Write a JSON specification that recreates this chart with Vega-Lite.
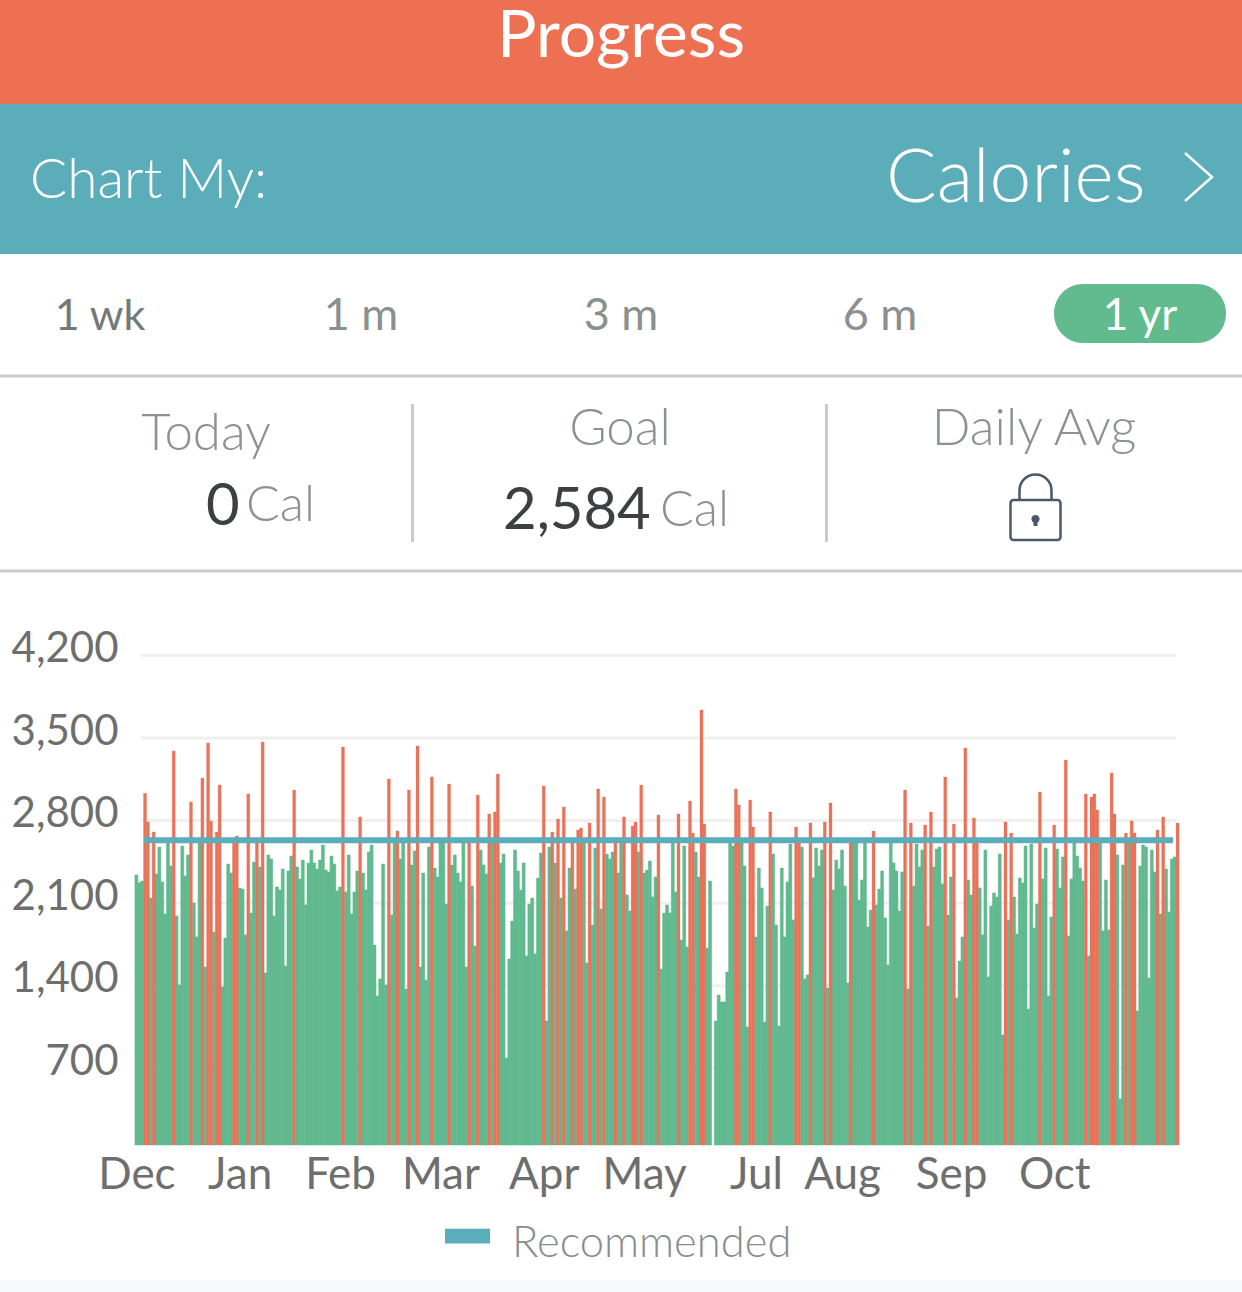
{"$schema":"https://vega.github.io/schema/vega-lite/v6.json","autosize":{"type":"none"},"padding":0,"width":1242,"height":1292,"background":"white","view":{"stroke":null},"config":{"font":"Lato","text":{"font":"Lato","baseline":"alphabetic"}},
"datasets":{
"daily":[{"day":1,"calories":2339},{"day":2,"calories":2274},{"day":3,"calories":2288},{"day":4,"calories":3031},{"day":5,"calories":2788},{"day":6,"calories":2144},{"day":7,"calories":2704},{"day":8,"calories":2348},{"day":9,"calories":2576},{"day":10,"calories":2280},{"day":11,"calories":2009},{"day":12,"calories":2610},{"day":13,"calories":2415},{"day":14,"calories":3390},{"day":15,"calories":1992},{"day":16,"calories":1407},{"day":17,"calories":2585},{"day":18,"calories":2331},{"day":19,"calories":2509},{"day":20,"calories":2958},{"day":21,"calories":2102},{"day":22,"calories":1814},{"day":23,"calories":2610},{"day":24,"calories":3161},{"day":25,"calories":1559},{"day":26,"calories":3458},{"day":27,"calories":2797},{"day":28,"calories":1856},{"day":29,"calories":2704},{"day":30,"calories":3102},{"day":31,"calories":1390},{"day":32,"calories":1805},{"day":33,"calories":2432},{"day":34,"calories":2356},{"day":35,"calories":2650},{"day":36,"calories":2670},{"day":37,"calories":2229},{"day":38,"calories":2220},{"day":39,"calories":1831},{"day":40,"calories":3026},{"day":41,"calories":2017},{"day":42,"calories":2449},{"day":43,"calories":2650},{"day":44,"calories":2407},{"day":45,"calories":3466},{"day":46,"calories":1509},{"day":47,"calories":2509},{"day":48,"calories":2475},{"day":49,"calories":1992},{"day":50,"calories":2237},{"day":51,"calories":2212},{"day":52,"calories":2390},{"day":53,"calories":1568},{"day":54,"calories":2373},{"day":55,"calories":2500},{"day":56,"calories":3059},{"day":57,"calories":2407},{"day":58,"calories":2305},{"day":59,"calories":2466},{"day":60,"calories":2085},{"day":61,"calories":2441},{"day":62,"calories":2551},{"day":63,"calories":2441},{"day":64,"calories":2390},{"day":65,"calories":2466},{"day":66,"calories":2593},{"day":67,"calories":2381},{"day":68,"calories":2365},{"day":69,"calories":2500},{"day":70,"calories":2432},{"day":71,"calories":2204},{"day":72,"calories":2237},{"day":73,"calories":3424},{"day":74,"calories":2195},{"day":75,"calories":2509},{"day":76,"calories":2009},{"day":77,"calories":2195},{"day":78,"calories":2373},{"day":79,"calories":2831},{"day":80,"calories":2356},{"day":81,"calories":2212},{"day":82,"calories":2534},{"day":83,"calories":2593},{"day":84,"calories":1746},{"day":85,"calories":1314},{"day":86,"calories":1458},{"day":87,"calories":2432},{"day":88,"calories":1407},{"day":89,"calories":3153},{"day":90,"calories":2000},{"day":91,"calories":2610},{"day":92,"calories":2712},{"day":93,"calories":2475},{"day":94,"calories":2610},{"day":95,"calories":1373},{"day":96,"calories":3059},{"day":97,"calories":2424},{"day":98,"calories":2543},{"day":99,"calories":3432},{"day":100,"calories":1559},{"day":101,"calories":2356},{"day":102,"calories":1449},{"day":103,"calories":2576},{"day":104,"calories":3170},{"day":105,"calories":2398},{"day":106,"calories":2322},{"day":107,"calories":2610},{"day":108,"calories":2610},{"day":109,"calories":2093},{"day":110,"calories":3110},{"day":111,"calories":2424},{"day":112,"calories":2509},{"day":113,"calories":2356},{"day":114,"calories":2280},{"day":115,"calories":2610},{"day":116,"calories":1559},{"day":117,"calories":2650},{"day":118,"calories":2246},{"day":119,"calories":1737},{"day":120,"calories":3017},{"day":121,"calories":2551},{"day":122,"calories":2424},{"day":123,"calories":2348},{"day":124,"calories":2856},{"day":125,"calories":2610},{"day":126,"calories":2873},{"day":127,"calories":3195},{"day":128,"calories":2441},{"day":129,"calories":2517},{"day":130,"calories":788},{"day":131,"calories":1627},{"day":132,"calories":1949},{"day":133,"calories":2551},{"day":134,"calories":2373},{"day":135,"calories":2212},{"day":136,"calories":2441},{"day":137,"calories":1653},{"day":138,"calories":2093},{"day":139,"calories":2144},{"day":140,"calories":1670},{"day":141,"calories":2314},{"day":142,"calories":2526},{"day":143,"calories":3093},{"day":144,"calories":1102},{"day":145,"calories":2576},{"day":146,"calories":2704},{"day":147,"calories":2441},{"day":148,"calories":2814},{"day":149,"calories":2144},{"day":150,"calories":2915},{"day":151,"calories":1865},{"day":152,"calories":2398},{"day":153,"calories":2650},{"day":154,"calories":2220},{"day":155,"calories":2720},{"day":156,"calories":2737},{"day":157,"calories":2610},{"day":158,"calories":1593},{"day":159,"calories":2780},{"day":160,"calories":1915},{"day":161,"calories":2568},{"day":162,"calories":3068},{"day":163,"calories":2051},{"day":164,"calories":3000},{"day":165,"calories":2517},{"day":166,"calories":2475},{"day":167,"calories":2534},{"day":168,"calories":2650},{"day":169,"calories":2356},{"day":170,"calories":2610},{"day":171,"calories":2831},{"day":172,"calories":2170},{"day":173,"calories":2034},{"day":174,"calories":2754},{"day":175,"calories":2788},{"day":176,"calories":2534},{"day":177,"calories":3102},{"day":178,"calories":2356},{"day":179,"calories":2381},{"day":180,"calories":2458},{"day":181,"calories":2153},{"day":182,"calories":2322},{"day":183,"calories":2848},{"day":184,"calories":1542},{"day":185,"calories":2017},{"day":186,"calories":2085},{"day":187,"calories":2017},{"day":188,"calories":2610},{"day":189,"calories":2195},{"day":190,"calories":2856},{"day":191,"calories":1788},{"day":192,"calories":2585},{"day":193,"calories":1729},{"day":194,"calories":2966},{"day":195,"calories":2695},{"day":196,"calories":2534},{"day":197,"calories":2322},{"day":198,"calories":3737},{"day":199,"calories":2771},{"day":200,"calories":1720},{"day":201,"calories":2288},{"day":203,"calories":1102},{"day":204,"calories":1322},{"day":205,"calories":1263},{"day":206,"calories":1263},{"day":207,"calories":1517},{"day":208,"calories":2610},{"day":209,"calories":2585},{"day":210,"calories":3068},{"day":211,"calories":2932},{"day":212,"calories":2610},{"day":213,"calories":2415},{"day":214,"calories":1051},{"day":215,"calories":2975},{"day":216,"calories":2746},{"day":217,"calories":1814},{"day":218,"calories":2398},{"day":219,"calories":2229},{"day":220,"calories":1093},{"day":221,"calories":2076},{"day":222,"calories":2873},{"day":223,"calories":2517},{"day":224,"calories":1915},{"day":225,"calories":1059},{"day":226,"calories":2398},{"day":227,"calories":1814},{"day":228,"calories":2280},{"day":229,"calories":2602},{"day":230,"calories":1958},{"day":231,"calories":2746},{"day":232,"calories":2650},{"day":233,"calories":2576},{"day":234,"calories":1458},{"day":235,"calories":1492},{"day":236,"calories":2780},{"day":237,"calories":2314},{"day":238,"calories":2568},{"day":239,"calories":2415},{"day":240,"calories":2551},{"day":241,"calories":2788},{"day":242,"calories":1381},{"day":243,"calories":2949},{"day":244,"calories":2212},{"day":245,"calories":2466},{"day":246,"calories":2390},{"day":247,"calories":2551},{"day":248,"calories":2246},{"day":249,"calories":1424},{"day":250,"calories":2650},{"day":251,"calories":2610},{"day":252,"calories":2610},{"day":253,"calories":2127},{"day":254,"calories":2297},{"day":255,"calories":2610},{"day":256,"calories":1898},{"day":257,"calories":2042},{"day":258,"calories":2712},{"day":259,"calories":2085},{"day":260,"calories":2220},{"day":261,"calories":2373},{"day":262,"calories":1975},{"day":263,"calories":1576},{"day":264,"calories":2610},{"day":265,"calories":2441},{"day":266,"calories":2373},{"day":267,"calories":2034},{"day":268,"calories":2365},{"day":269,"calories":3059},{"day":270,"calories":1373},{"day":271,"calories":2780},{"day":272,"calories":2246},{"day":273,"calories":2602},{"day":274,"calories":2407},{"day":275,"calories":2551},{"day":276,"calories":2763},{"day":277,"calories":1907},{"day":278,"calories":2873},{"day":279,"calories":2407},{"day":280,"calories":2559},{"day":281,"calories":2576},{"day":282,"calories":2263},{"day":283,"calories":3170},{"day":284,"calories":2000},{"day":285,"calories":2322},{"day":286,"calories":2771},{"day":287,"calories":1297},{"day":288,"calories":1610},{"day":289,"calories":1814},{"day":290,"calories":3415},{"day":291,"calories":2297},{"day":292,"calories":2170},{"day":293,"calories":2822},{"day":294,"calories":2650},{"day":295,"calories":2229},{"day":296,"calories":1831},{"day":297,"calories":2551},{"day":298,"calories":1475},{"day":299,"calories":2076},{"day":300,"calories":2187},{"day":301,"calories":2153},{"day":302,"calories":2517},{"day":303,"calories":983},{"day":304,"calories":2788},{"day":305,"calories":1958},{"day":306,"calories":2695},{"day":307,"calories":2153},{"day":308,"calories":1839},{"day":309,"calories":2314},{"day":310,"calories":2271},{"day":311,"calories":2585},{"day":312,"calories":1203},{"day":313,"calories":2602},{"day":314,"calories":1890},{"day":315,"calories":2093},{"day":316,"calories":3043},{"day":317,"calories":2305},{"day":318,"calories":2568},{"day":319,"calories":1314},{"day":320,"calories":1983},{"day":321,"calories":2763},{"day":322,"calories":2559},{"day":323,"calories":2229},{"day":324,"calories":2492},{"day":325,"calories":3314},{"day":326,"calories":1822},{"day":327,"calories":2305},{"day":328,"calories":2610},{"day":329,"calories":2500},{"day":330,"calories":2398},{"day":331,"calories":2288},{"day":332,"calories":3026},{"day":333,"calories":1653},{"day":334,"calories":3000},{"day":335,"calories":3026},{"day":336,"calories":2890},{"day":337,"calories":2610},{"day":338,"calories":1865},{"day":339,"calories":2297},{"day":340,"calories":1873},{"day":341,"calories":3204},{"day":342,"calories":2856},{"day":343,"calories":2509},{"day":344,"calories":441},{"day":345,"calories":2424},{"day":346,"calories":2695},{"day":347,"calories":2610},{"day":348,"calories":2797},{"day":349,"calories":2695},{"day":350,"calories":1187},{"day":351,"calories":2415},{"day":352,"calories":2593},{"day":353,"calories":2576},{"day":354,"calories":1466},{"day":355,"calories":2551},{"day":356,"calories":2365},{"day":357,"calories":2720},{"day":358,"calories":2009},{"day":359,"calories":2831},{"day":360,"calories":2390},{"day":361,"calories":2026},{"day":362,"calories":2475},{"day":363,"calories":2492},{"day":364,"calories":2780}],
"gridlines":[{"value":700,"from":2.6,"to":363.5},{"value":1400,"from":2.6,"to":363.5},{"value":2100,"from":2.6,"to":363.5},{"value":2800,"from":2.6,"to":363.5},{"value":3500,"from":2.6,"to":363.5},{"value":4200,"from":2.6,"to":363.5}],
"recommended":[{"value":2633,"from":3.64,"to":362.4}]
},
"layer":[
{"data":{"values":[{}]},"mark":{"type":"rect","x":0,"x2":1242,"y":0,"y2":104,"fill":"#EE7052"}},
{"data":{"values":[{}]},"mark":{"type":"rect","x":0,"x2":1242,"y":104,"y2":254,"fill":"#5AADB9"}},
{"data":{"values":[{}]},"mark":{"type":"rect","x":0,"x2":1242,"y":374.5,"y2":377.5,"fill":"#CBCBCB"}},
{"data":{"values":[{}]},"mark":{"type":"rect","x":0,"x2":1242,"y":569.5,"y2":572.5,"fill":"#CBCBCB"}},
{"data":{"values":[{}]},"mark":{"type":"rect","x":411,"x2":414,"y":404,"y2":542,"fill":"#CBCBCB"}},
{"data":{"values":[{}]},"mark":{"type":"rect","x":825,"x2":828,"y":404,"y2":542,"fill":"#CBCBCB"}},
{"data":{"values":[{}]},"mark":{"type":"rect","x":0,"x2":1242,"y":1280,"y2":1292,"fill":"#F8F9FB"}},
{"data":{"values":[{}]},"mark":{"type":"rect","x":1054,"x2":1226,"y":284,"y2":343,"fill":"#61BB8F","cornerRadius":29}},
{"data":{"values":[{}]},"mark":{"type":"text","text":"Progress","x":621,"y":57,"align":"center","baseline":"alphabetic","fontSize":66,"fill":"white"}},
{"data":{"values":[{}]},"mark":{"type":"text","text":"Chart My:","x":30,"y":198,"align":"left","baseline":"alphabetic","fontSize":55,"fontWeight":300,"fill":"white"}},
{"data":{"values":[{}]},"mark":{"type":"text","text":"Calories","x":886,"y":202,"align":"left","baseline":"alphabetic","fontSize":75,"fontWeight":300,"fill":"white"}},
{"data":{"values":[{}]},"mark":{"type":"point","shape":"M-1,-1.78L1,0L-1,1.78","size":729,"x":1198.5,"y":177,"filled":false,"stroke":"white","strokeWidth":2.5,"opacity":1}},
{"data":{"values":[{"tab":"1 wk"}]},"mark":{"type":"text","x":100,"y":330,"align":"center","baseline":"alphabetic","fontSize":43,"fill":"#737878"},"encoding":{"text":{"field":"tab"}}},
{"data":{"values":[{"tab":"1 m"}]},"mark":{"type":"text","x":361,"y":330,"align":"center","baseline":"alphabetic","fontSize":45,"fill":"#8A9090"},"encoding":{"text":{"field":"tab"}}},
{"data":{"values":[{"tab":"3 m"}]},"mark":{"type":"text","x":621,"y":330,"align":"center","baseline":"alphabetic","fontSize":45,"fill":"#8A9090"},"encoding":{"text":{"field":"tab"}}},
{"data":{"values":[{"tab":"6 m"}]},"mark":{"type":"text","x":880,"y":330,"align":"center","baseline":"alphabetic","fontSize":45,"fill":"#8A9090"},"encoding":{"text":{"field":"tab"}}},
{"data":{"values":[{"tab":"1 yr"}]},"mark":{"type":"text","x":1140,"y":330,"align":"center","baseline":"alphabetic","fontSize":44,"fill":"white"},"encoding":{"text":{"field":"tab"}}},
{"data":{"values":[{}]},"mark":{"type":"text","text":"Today","x":206,"y":450,"align":"center","baseline":"alphabetic","fontSize":51,"fontWeight":300,"fill":"#8A9292"}},
{"data":{"values":[{}]},"mark":{"type":"text","text":"0","x":206,"y":525,"align":"left","baseline":"alphabetic","fontSize":58,"fill":"#3C4042"}},
{"data":{"values":[{}]},"mark":{"type":"text","text":"Cal","x":246,"y":521,"align":"left","baseline":"alphabetic","fontSize":50,"fontWeight":300,"fill":"#8A9292"}},
{"data":{"values":[{}]},"mark":{"type":"text","text":"Goal","x":620,"y":445,"align":"center","baseline":"alphabetic","fontSize":51,"fontWeight":300,"fill":"#8A9292"}},
{"data":{"values":[{}]},"mark":{"type":"text","text":"2,584","x":503,"y":529,"align":"left","baseline":"alphabetic","fontSize":58,"fill":"#3C4042"}},
{"data":{"values":[{}]},"mark":{"type":"text","text":"Cal","x":660,"y":526,"align":"left","baseline":"alphabetic","fontSize":50,"fontWeight":300,"fill":"#8A9292"}},
{"data":{"values":[{}]},"mark":{"type":"text","text":"Daily Avg","x":1034,"y":445,"align":"center","baseline":"alphabetic","fontSize":51,"fontWeight":300,"fill":"#8A9292"}},
{"data":{"values":[{}]},"mark":{"type":"point","shape":"M-22,-7.5H22a3,3 0 0 1 3,3V29.5a3,3 0 0 1 -3,3H-22a3,3 0 0 1 -3,-3V-4.5a3,3 0 0 1 3,-3ZM-16,-7.5V-17a16,16 0 0 1 32,0V-7.5","size":4,"x":1035.5,"y":507.5,"filled":false,"stroke":"#4A5868","strokeWidth":2.5,"opacity":1}},
{"data":{"values":[{}]},"mark":{"type":"point","shape":"M0,-5a4,4 0 0 1 2,7.5V6H-2V2.5A4,4 0 0 1 0,-5Z","size":4,"x":1035.5,"y":520,"filled":true,"fill":"#4A5868","opacity":1}},
{"data":{"name":"gridlines"},"mark":{"type":"rule","stroke":"#F0F0F0","strokeWidth":3},
 "encoding":{"x":{"field":"from","type":"quantitative","title":null,"scale":{"domain":[0.5,364.5],"range":[135,1179],"nice":false,"zero":false,"padding":0},"axis":{"orient":"bottom","offset":-147,"values":[1,37,72,107,143,178,217,247,285,321],"labelExpr":"{'1':'Dec','37':'Jan','72':'Feb','107':'Mar','143':'Apr','178':'May','217':'Jul','247':'Aug','285':'Sep','321':'Oct'}[datum.value]","domain":false,"ticks":false,"grid":false,"labelPadding":30,"labelBaseline":"middle","labelFontSize":44,"labelColor":"#6E6E6E","labelFont":"Lato","labelOverlap":false,"labelBound":false,"labelFlush":false}},"x2":{"field":"to"},
 "y":{"field":"value","type":"quantitative","title":null,"scale":{"domain":[51,4200],"range":[1145,655.4],"nice":false,"zero":false},"axis":{"orient":"left","values":[700,1400,2100,2800,3500,4200],"format":",d","domain":false,"ticks":false,"grid":false,"labelPadding":-118,"labelOffset":-7,"labelFontSize":42,"labelColor":"#6E6E6E","labelFont":"Lato","labelOverlap":false,"labelBound":false,"labelFlush":false}}}},
{"data":{"name":"daily"},"transform":[{"filter":"datum.calories <= 2620"}],"mark":{"type":"bar","orient":"vertical","width":3,"fill":"#60B98F","stroke":"#60B98F","strokeWidth":0.5},
 "encoding":{"x":{"field":"day","type":"quantitative","title":null},
 "y":{"field":"calories","type":"quantitative","stack":null,"title":null},
 "y2":{"datum":51}}},
{"data":{"name":"daily"},"transform":[{"filter":"datum.calories > 2620"}],"mark":{"type":"bar","orient":"vertical","width":3,"fill":"#E8735A","stroke":"#E8735A","strokeWidth":0.3},
 "encoding":{"x":{"field":"day","type":"quantitative","title":null},"y":{"field":"calories","type":"quantitative","stack":null,"title":null},"y2":{"datum":51}}},
{"data":{"name":"recommended"},"mark":{"type":"rule","strokeWidth":6},
 "encoding":{"x":{"field":"from","type":"quantitative","title":null},"x2":{"field":"to"},"y":{"field":"value","type":"quantitative","title":null},
 "color":{"datum":"Recommended","type":"nominal","scale":{"range":["#5AADB9"]},"legend":{"orient":"none","legendX":445,"legendY":1221,"title":null,"symbolType":"M-1,-0.66H1V0H-1Z","symbolSize":2025,"symbolStrokeWidth":0,"symbolFillColor":"#5AADB9","labelFont":"Lato","labelFontSize":43.5,"labelFontWeight":300,"labelColor":"#868E8E","labelOffset":22,"labelLimit":400}}}}
]}
